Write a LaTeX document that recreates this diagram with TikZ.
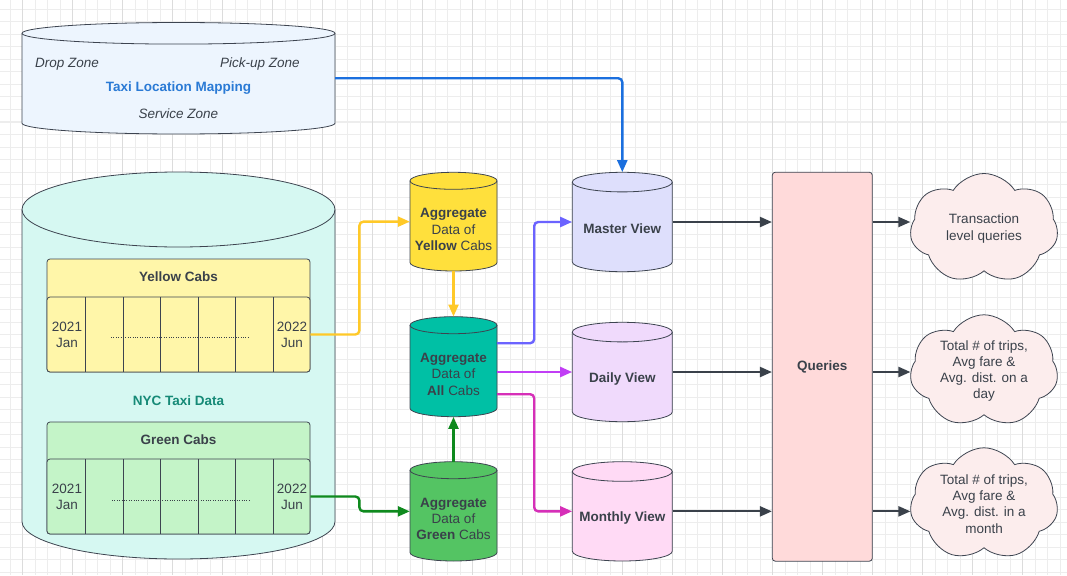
\documentclass[tikz,border=0pt]{standalone}
\usepackage{fontspec}
\setmainfont{Liberation Sans}
\usetikzlibrary{arrows.meta,shapes.symbols,calc}

\definecolor{ink}{HTML}{3A414A}
\definecolor{edge}{HTML}{3D4450}
\definecolor{gridminor}{HTML}{EDEDED}
\definecolor{gridmajor}{HTML}{DCDCDC}
\definecolor{mapfill}{HTML}{EDF5FE}
\definecolor{nycfill}{HTML}{D6F8F2}
\definecolor{ycabfill}{HTML}{FFF6A9}
\definecolor{gcabfill}{HTML}{C4F4C8}
\definecolor{aggyfill}{HTML}{FFE03C}
\definecolor{aggafill}{HTML}{00C0A5}
\definecolor{agggfill}{HTML}{54C463}
\definecolor{masterfill}{HTML}{DEDFFC}
\definecolor{dailyfill}{HTML}{F0DAFC}
\definecolor{monthfill}{HTML}{FFDAF5}
\definecolor{queryfill}{HTML}{FFDADA}
\definecolor{cloudfill}{HTML}{FCEDED}
\definecolor{maptext}{HTML}{2A7AD5}
\definecolor{nyctext}{HTML}{168A77}
\definecolor{bluewire}{HTML}{1B6FDE}
\definecolor{yellowwire}{HTML}{FFC928}
\definecolor{greenwire}{HTML}{0F8A1E}
\definecolor{violetwire}{HTML}{6B63FF}
\definecolor{purplewire}{HTML}{C13EF5}
\definecolor{magentawire}{HTML}{D62FB8}

% cylinder: #1 name, #2 left x, #3 right x, #4 top y, #5 bottom y, #6 end radius, #7 fill
\newcommand\cylnode[7]{%
  \pgfmathsetmacro\dcx{(#2+#3)/2}%
  \pgfmathsetmacro\drx{(#3-#2)/2}%
  \pgfmathsetmacro\dyt{#4+#6}%
  \pgfmathsetmacro\dyb{#5-#6}%
  \fill[#7] (#2,\dyt) -- (#2,\dyb) arc[start angle=180,end angle=0,x radius=\drx,y radius=#6]
        -- (#3,\dyt) arc[start angle=0,end angle=-180,x radius=\drx,y radius=#6] -- cycle;
  \draw[outline] (#2,\dyt) -- (#2,\dyb) arc[start angle=180,end angle=0,x radius=\drx,y radius=#6] -- (#3,\dyt);
  \draw[outline] (\dcx,\dyt) ellipse[x radius=\drx,y radius=#6];
  \node[inner sep=0pt,minimum width={#3-#2},minimum height={#5-#4}] (#1) at (\dcx,{(#4+#5)/2}) {};%
}

\begin{document}
\begin{tikzpicture}[x=1pt,y=-1pt,
  font=\fontsize{13.5}{16.3}\selectfont, text=ink,
  outline/.style={draw=edge,line width=0.8pt},
  lbl/.style={inner sep=0pt,align=center},
  boxnode/.style={outline,rounded corners=3pt,inner sep=0pt},
  wire/.style={line width=2.4pt,rounded corners=4pt,-{Triangle[length=12pt,width=10pt]}},
  darkwire/.style={wire,draw=ink,line width=2.2pt},
  dotline/.style={draw=ink,line width=0.9pt,dash pattern=on 1pt off 1.4pt},
  cloudbox/.style={shape=cloud,cloud puffs=7,cloud puff arc=115,aspect=1.35,
    outline,fill=cloudfill,minimum width=148pt,minimum height=110pt,inner sep=0pt,align=center}]

\useasboundingbox (0,0) rectangle (1067,575);
\fill[white] (0,0) rectangle (1067,575);

% background grid
\foreach \k in {0,...,45} \draw[gridminor,line width=1pt] (0,{9.5+12.5*\k}) -- (1067,{9.5+12.5*\k});
\foreach \k in {0,...,84} \draw[gridminor,line width=1pt] ({10.2+12.5*\k},0) -- ({10.2+12.5*\k},575);
\foreach \k in {0,...,20} \draw[gridmajor,line width=1.5pt] ({22.7+50*\k},0) -- ({22.7+50*\k},575);

% location mapping store
\cylnode{tlm}{22}{335}{22.5}{134}{10.8}{mapfill}
\node[lbl,font=\fontsize{13.5}{16.3}\selectfont\itshape] (dropz) at (67,64) {Drop Zone};
\node[lbl,font=\fontsize{13.5}{16.3}\selectfont\itshape] (pickz) at (260,64) {Pick-up Zone};
\node[lbl,text=maptext,font=\fontsize{13.5}{16.3}\selectfont\bfseries] (tlmlabel) at (178.5,88) {Taxi Location Mapping};
\node[lbl,font=\fontsize{13.5}{16.3}\selectfont\itshape] (servz) at (178.5,114) {Service Zone};

% raw taxi data store
\cylnode{nyc}{22}{335}{172}{559}{37.5}{nycfill}
\node[lbl,text=nyctext,font=\fontsize{13.5}{16.3}\selectfont\bfseries] (nyclabel) at (178.5,401) {NYC Taxi Data};

% yellow cab monthly files
\node[boxnode,fill=ycabfill,minimum width=263pt,minimum height=113pt] (ycab) at (178.5,315.5) {};
\node[lbl,font=\fontsize{13.5}{16.3}\selectfont\bfseries] (ycabt) at (178.5,276.5) {Yellow Cabs};
\node[boxnode,fill=ycabfill,minimum width=263pt,minimum height=75pt] (ycrow) at (178.5,334.5) {};
\foreach \x in {85.5,123,160.5,198,235.5,273} \draw[outline] (\x,297) -- (\x,372);
\node[lbl] (yfirst) at (67,334.5) {2021\\Jan};
\node[lbl] (ylast) at (292,334.5) {2022\\Jun};
\draw[dotline] (111,337) -- (248,337);

% green cab monthly files
\node[boxnode,fill=gcabfill,minimum width=263pt,minimum height=112pt] (gcab) at (178.5,478) {};
\node[lbl,font=\fontsize{13.5}{16.3}\selectfont\bfseries] (gcabt) at (178.5,439.5) {Green Cabs};
\node[boxnode,fill=gcabfill,minimum width=263pt,minimum height=75pt] (gcrow) at (178.5,496.5) {};
\foreach \x in {85.5,123,160.5,198,235.5,273} \draw[outline] (\x,459) -- (\x,534);
\node[lbl] (gfirst) at (67,497) {2021\\Jan};
\node[lbl] (glast) at (292,497) {2022\\Jun};
\draw[dotline] (112,500.5) -- (249,500.5);

% aggregates
\cylnode{aggY}{410}{497}{172.3}{271}{8.5}{aggyfill}
\node[lbl] (aggYt) at ([yshift=-8pt]aggY.center) {\textbf{Aggregate}\\Data of\\\textbf{Yellow} Cabs};
\cylnode{aggA}{410}{497}{316.7}{416.7}{8.5}{aggafill}
\node[lbl] (aggAt) at ([yshift=-7.5pt]aggA.center) {\textbf{Aggregate}\\Data of\\\textbf{All} Cabs};
\cylnode{aggG}{410}{497}{461.7}{561}{8.5}{agggfill}
\node[lbl] (aggGt) at ([yshift=-7.5pt]aggG.center) {\textbf{Aggregate}\\Data of\\\textbf{Green} Cabs};

% views
\cylnode{master}{572.3}{672.3}{172.3}{271.7}{9.8}{masterfill}
\node[lbl,font=\fontsize{13.5}{16.3}\selectfont\bfseries] (mastert) at ([yshift=-7pt]master.center) {Master View};
\cylnode{daily}{572.3}{672.3}{322.3}{421.7}{9.8}{dailyfill}
\node[lbl,font=\fontsize{13.5}{16.3}\selectfont\bfseries] (dailyt) at ([yshift=-7pt]daily.center) {Daily View};
\cylnode{monthly}{572.3}{672.3}{461.7}{561}{9.8}{monthfill}
\node[lbl,font=\fontsize{13.5}{16.3}\selectfont\bfseries] (monthlyt) at ([yshift=-7pt]monthly.center) {Monthly View};

% query layer
\node[boxnode,fill=queryfill,minimum width=100pt,minimum height=389pt,
  font=\fontsize{13.5}{16.3}\selectfont\bfseries] (queries) at (822.3,366.7) {Queries};

% query results
\node[cloudbox] (q1) at (984,228.5) {Transaction\\level queries};
\node[cloudbox] (q2) at (984,371) {Total \# of trips,\\Avg fare \&\\Avg. dist. on a\\day};
\node[cloudbox] (q3) at (984,504) {Total \# of trips,\\Avg fare \&\\Avg. dist. in a\\month};

% connectors
\draw[wire,draw=bluewire] (tlm.east) -| (master.north);
\draw[wire,draw=yellowwire] (ycrow.east) -- ++(49,0) |- (aggY.west);
\draw[wire,draw=yellowwire] (aggY.south) -- (aggA.north);
\draw[wire,draw=greenwire] (gcrow.east) -- ++(49,0) |- (aggG.west);
\draw[wire,draw=greenwire] (aggG.north) -- (aggA.south);
\draw[wire,draw=violetwire] ([yshift=23.5pt]aggA.east) -- ++(37,0) |- (master.west);
\draw[wire,draw=purplewire] (aggA.east |- daily.west) -- (daily.west);
\draw[wire,draw=magentawire] ([yshift=-27.5pt]aggA.east) -- ++(37,0) |- (monthly.west);

\draw[darkwire] (master.east) -- (master.east -| queries.west);
\draw[darkwire] (daily.east) -- (daily.east -| queries.west);
\draw[darkwire] (monthly.east) -- (monthly.east -| queries.west);
\draw[darkwire] (queries.east |- master.east) -- (q1.west |- master.east);
\draw[darkwire] (queries.east |- daily.east) -- (q2.west |- daily.east);
\draw[darkwire] (queries.east |- monthly.east) -- (q3.west |- monthly.east);
\end{tikzpicture}
\end{document}
